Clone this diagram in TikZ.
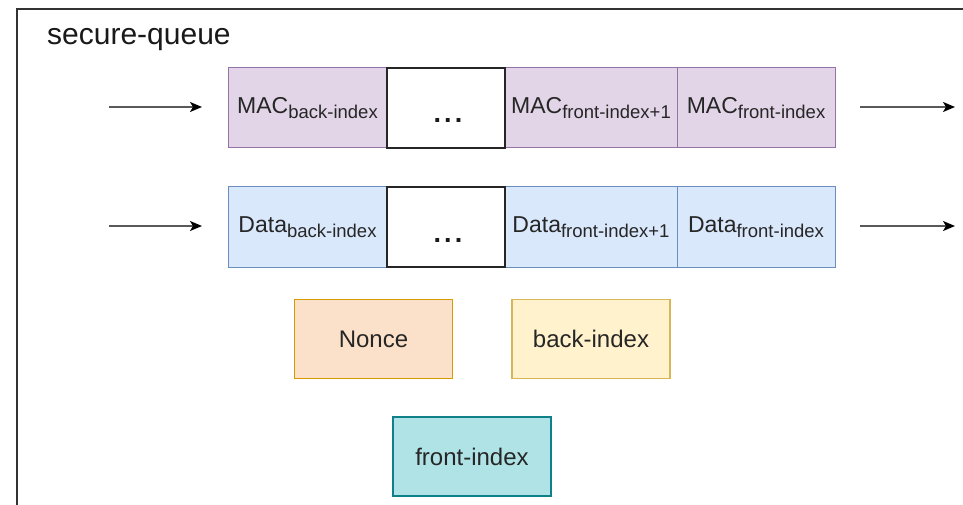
\documentclass[tikz,border=0pt]{standalone}
\usepackage{fontspec}
\setmainfont{Liberation Sans}
\usetikzlibrary{arrows.meta}
\definecolor{macfill}{HTML}{E1D5E7}\definecolor{macline}{HTML}{9673A6}
\definecolor{datafill}{HTML}{DAE8FC}\definecolor{dataline}{HTML}{6C8EBF}
\definecolor{noncefill}{HTML}{FCE1CA}\definecolor{nonceline}{HTML}{D79B00}
\definecolor{backfill}{HTML}{FFF2CC}\definecolor{backline}{HTML}{D6B656}
\definecolor{frontfill}{HTML}{B0E3E6}\definecolor{frontline}{HTML}{0E8088}
\definecolor{frame}{HTML}{333333}
\newcommand\lowsub[1]{\raisebox{-4.5pt}{\fontsize{18.5}{20}\selectfont #1}}
\newcommand\spaceddots{.\kern3.2pt.\kern3.2pt.}
\begin{document}
\begin{tikzpicture}[x=1pt,y=-1pt,
  cell/.style={draw, line width=1pt, minimum width=#1, minimum height=80pt, inner sep=0pt,
    font=\fontsize{23}{26}\selectfont, text=black!85},
  maccell/.style={cell=#1, fill=macfill, draw=macline},
  datacell/.style={cell=#1, fill=datafill, draw=dataline},
  dotcell/.style={cell=#1, fill=white, draw=black!85, line width=1.3pt},
  dots/.style={anchor=base, inner sep=0pt, font=\fontsize{27}{28}\selectfont\bfseries, text=black!90},
  varbox/.style={draw, line width=1.2pt, minimum width=158pt, minimum height=79pt,
    inner sep=0pt, font=\fontsize{24}{28}\selectfont, text=black!85},
  flow/.style={line width=1.6pt, draw=black!65, -{Stealth[length=12pt,width=10pt,inset=3pt,color=black]}}]
\useasboundingbox (0,0) rectangle (963,505);
\fill[white] (0,0) rectangle (963,505);
% enclosing frame (open to the right and bottom)
\draw[frame, line width=1.5pt] (17,520) -- (17,9) -- (980,9);
\node[anchor=base west, inner sep=0pt, font=\fontsize{30}{34}\selectfont, text=black!90] (title) at (47,45) {secure-queue};

% MAC queue
\node[maccell=159pt] (mac1) at (307.5,108) {MAC\lowsub{back-index}};
\node[maccell=172pt] (mac3) at (591,108) {MAC\lowsub{front-index+1}};
\node[maccell=158pt] (mac4) at (756,108) {MAC\lowsub{front-index}};
\node[dotcell=118pt] (mac2) at (446,108) {};
\node[dots] (macdots) at (448,123) {\spaceddots};

% Data queue
\node[datacell=159pt] (dat1) at (307.5,227) {Data\lowsub{back-index}};
\node[datacell=172pt] (dat3) at (591,227) {Data\lowsub{front-index+1}};
\node[datacell=158pt] (dat4) at (756,227) {Data\lowsub{front-index}};
\node[dotcell=118pt] (dat2) at (446,227) {};
\node[dots] (datdots) at (448,242) {\spaceddots};

% state variables
\node[varbox, fill=noncefill, draw=nonceline] (nonce) at (373.5,339) {Nonce};
\node[varbox, fill=backfill, draw=backline] (backidx) at (591,339) {back-index};
\node[varbox, fill=frontfill, draw=frontline] (frontidx) at (472,456.5) {front-index};

% enqueue / dequeue arrows
\coordinate (macin) at (109,107);  \coordinate (macinend) at (202,107);
\coordinate (datin) at (109,226);  \coordinate (datinend) at (202,226);
\coordinate (macout) at (860,107); \coordinate (macoutend) at (955,107);
\coordinate (datout) at (860,226); \coordinate (datoutend) at (955,226);
\draw[flow] (macin) -- (macinend);
\draw[flow] (datin) -- (datinend);
\draw[flow] (macout) -- (macoutend);
\draw[flow] (datout) -- (datoutend);
\end{tikzpicture}
\end{document}
